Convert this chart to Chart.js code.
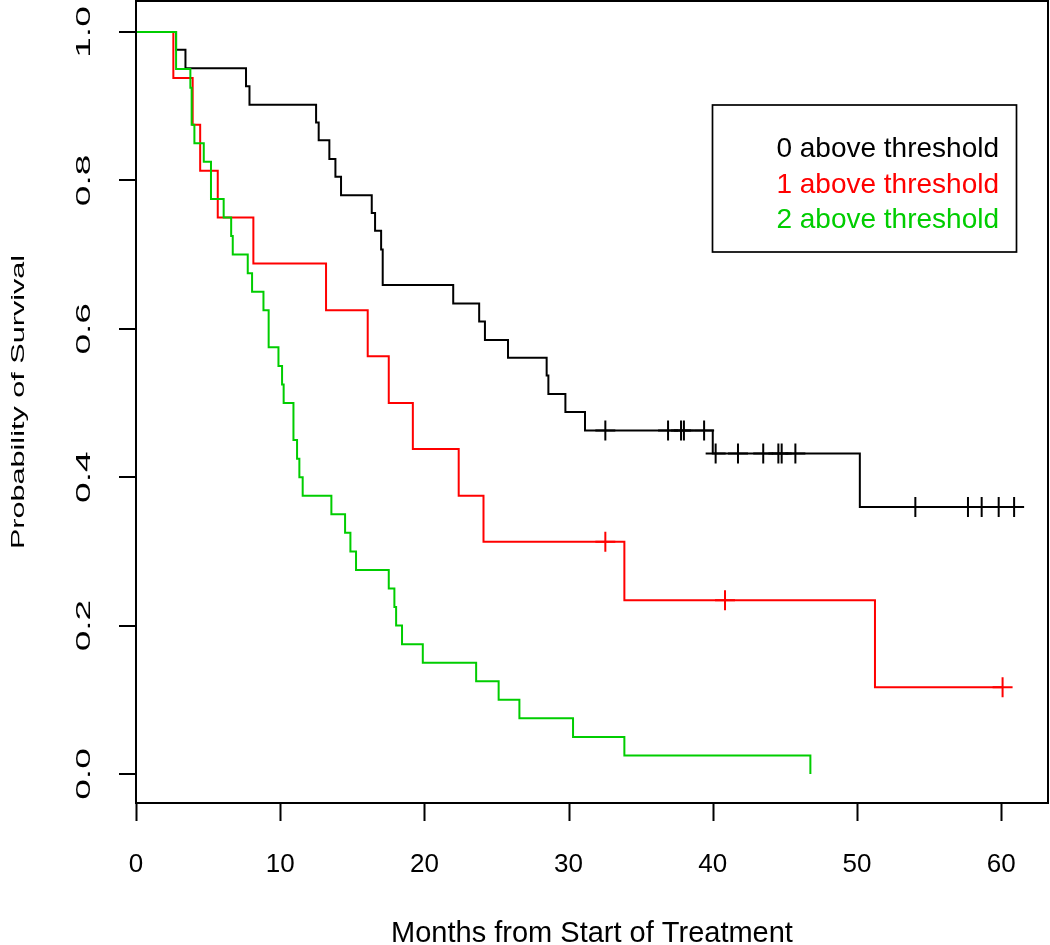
<!DOCTYPE html>
<html>
<head>
<meta charset="utf-8">
<script src="https://cdn.jsdelivr.net/npm/chart.js@4.4.1/dist/chart.umd.min.js"></script>
<style>
  html, body { margin: 0; padding: 0; background: #fff; }
  #wrap { width: 1050px; height: 945px; }
</style>
</head>
<body>
<div id="wrap"><canvas id="survChart" width="1050" height="945"></canvas></div>
<script>
// groups
const groupLabels = ['0 above threshold', '1 above threshold', '2 above threshold'];
const groupColors = ['#000000', '#FF0000', '#00CD00'];

// Kaplan-Meier steps: time of each drop (months) and survival right after it
const timeBlack = [0, 2.78, 3.43, 7.63, 7.87, 12.49, 12.67, 13.41, 13.83, 14.22, 16.35, 16.58, 17.0, 17.11,
    22.0, 23.8, 24.2, 25.8, 28.48, 28.6, 29.78, 31.14, 40.0, 50.2, 60.9];
const survBlack = [1, 0.976, 0.951, 0.927, 0.902, 0.878, 0.854, 0.829, 0.805, 0.780, 0.756, 0.732, 0.707, 0.659,
    0.634, 0.610, 0.585, 0.561, 0.537, 0.512, 0.488, 0.463, 0.432, 0.360, 0.360];

const timeRed = [0, 2.59, 3.93, 4.45, 5.67, 8.14, 13.18, 16.07, 17.53, 19.2, 22.38, 24.1, 33.87, 51.25, 60.1];
const survRed = [1, 0.938, 0.875, 0.813, 0.75, 0.688, 0.625, 0.563, 0.5, 0.438, 0.375, 0.313, 0.234, 0.117, 0.117];

const timeGreen = [0, 2.78, 3.77, 3.86, 4.05, 4.7, 5.2, 6.08, 6.6, 6.71, 7.75, 8.05, 8.84, 9.2, 9.88, 10.13, 10.24,
    10.92, 11.17, 11.33, 11.56, 13.55, 14.5, 14.87, 15.26, 17.53, 17.92, 18.04, 18.45, 19.89, 23.59, 25.15,
    26.59, 30.31, 33.87, 46.77];
const survGreen = [1, 0.95, 0.925, 0.875, 0.85, 0.825, 0.775, 0.75, 0.725, 0.7, 0.675, 0.65, 0.625, 0.575, 0.55,
    0.525, 0.5, 0.45, 0.425, 0.4, 0.375, 0.35, 0.325, 0.3, 0.275, 0.25, 0.225, 0.2, 0.175, 0.15, 0.125, 0.1,
    0.075, 0.05, 0.025, 0];

// censored observations (+ marks)
const censBlackT = [32.55, 36.9, 37.8, 38.0, 39.4, 40.2, 41.75, 43.5, 44.55, 44.78, 45.73, 54.05, 57.7, 58.65, 59.83, 60.9];
const censBlackS = [0.463, 0.463, 0.463, 0.463, 0.463, 0.432, 0.432, 0.432, 0.432, 0.432, 0.432, 0.360, 0.360, 0.360, 0.360, 0.360];
const censRedT = [32.55, 40.85, 60.1];
const censRedS = [0.313, 0.234, 0.117];
const censGreenT = [];
const censGreenS = [];

// axes
const xTicks = [0, 10, 20, 30, 40, 50, 60];
const yTicks = [0, 0.2, 0.4, 0.6, 0.8, 1.0];
const xTitle = 'Months from Start of Treatment';
const yTitle = 'Probability of Survival';

const FONT = '"Liberation Sans", Arial, Helvetica, sans-serif';

function toPoints(xs, ys) {
    return xs.map((x, i) => ({ x: x, y: ys[i] }));
}

const curves = [
    { t: timeBlack, s: survBlack, ct: censBlackT, cs: censBlackS },
    { t: timeRed, s: survRed, ct: censRedT, cs: censRedS },
    { t: timeGreen, s: survGreen, ct: censGreenT, cs: censGreenS }
];

const datasets = [];
curves.forEach((c, i) => {
    // later groups are drawn on top, like R does
    datasets.push({
        type: 'line',
        label: groupLabels[i],
        data: toPoints(c.t, c.s),
        borderColor: groupColors[i],
        borderWidth: 2,
        stepped: true,
        pointRadius: 0,
        fill: false,
        order: 2 * (2 - i) + 1
    });
    datasets.push({
        type: 'scatter',
        label: groupLabels[i] + ' censored',
        data: toPoints(c.ct, c.cs),
        pointStyle: 'cross',
        pointRadius: 10,
        pointBorderWidth: 2,
        borderColor: groupColors[i],
        pointBorderColor: groupColors[i],
        showLine: false,
        order: 2 * (2 - i)
    });
});

const rAxesPlugin = {
    id: 'rAxes',
    afterDraw(chart) {
        const ctx = chart.ctx;
        const area = chart.chartArea;
        const xs = chart.scales.x;
        const ys = chart.scales.y;

        ctx.save();
        ctx.strokeStyle = '#000';
        ctx.fillStyle = '#000';
        ctx.lineWidth = 2;

        // plot box
        ctx.strokeRect(area.left, area.top, area.right - area.left, area.bottom - area.top);

        // tick marks
        ctx.beginPath();
        xTicks.forEach(v => {
            const px = Math.round(xs.getPixelForValue(v)) + 0.5;
            ctx.moveTo(px, area.bottom);
            ctx.lineTo(px, area.bottom + 18);
        });
        yTicks.forEach(v => {
            const py = Math.round(ys.getPixelForValue(v));
            ctx.moveTo(area.left, py);
            ctx.lineTo(area.left - 17, py);
        });
        ctx.stroke();

        // x tick labels
        ctx.font = '26px ' + FONT;
        ctx.textAlign = 'center';
        ctx.textBaseline = 'alphabetic';
        xTicks.forEach(v => {
            ctx.fillText(String(v), xs.getPixelForValue(v), 872);
        });

        // y tick labels, rotated and drawn tall like the original device
        yTicks.forEach(v => {
            ctx.save();
            ctx.translate(89.5, ys.getPixelForValue(v));
            ctx.rotate(-Math.PI / 2);
            ctx.scale(1.85, 1);
            ctx.font = '20px ' + FONT;
            ctx.textAlign = 'center';
            ctx.fillText(v.toFixed(1), 0, 0);
            ctx.restore();
        });

        // axis titles
        ctx.font = '29px ' + FONT;
        ctx.textAlign = 'center';
        ctx.fillText(xTitle, (area.left + area.right) / 2, 942);

        ctx.save();
        ctx.translate(23.5, (area.top + area.bottom) / 2);
        ctx.rotate(-Math.PI / 2);
        ctx.scale(1.7, 1);
        ctx.font = '18px ' + FONT;
        ctx.textAlign = 'center';
        ctx.fillText(yTitle, 0, 0);
        ctx.restore();

        // legend
        ctx.lineWidth = 1.7;
        ctx.strokeRect(712.5, 105, 304, 147);
        ctx.font = '28px ' + FONT;
        ctx.textAlign = 'right';
        groupLabels.forEach((lab, i) => {
            ctx.fillStyle = groupColors[i];
            ctx.fillText(lab, 999, 157 + i * 35.5);
        });

        ctx.restore();
    }
};

const ctx = document.getElementById('survChart').getContext('2d');
new Chart(ctx, {
    type: 'scatter',
    data: { datasets: datasets },
    options: {
        responsive: false,
        devicePixelRatio: 1,
        animation: false,
        events: [],
        layout: { autoPadding: false, padding: { left: 136, right: 2, top: 1, bottom: 142 } },
        scales: {
            x: { type: 'linear', min: 0, max: 63.25, display: false },
            y: { type: 'linear', min: -0.0391, max: 1.0418, display: false }
        },
        plugins: {
            legend: { display: false },
            tooltip: { enabled: false }
        }
    },
    plugins: [rAxesPlugin]
});
</script>
</body>
</html>
